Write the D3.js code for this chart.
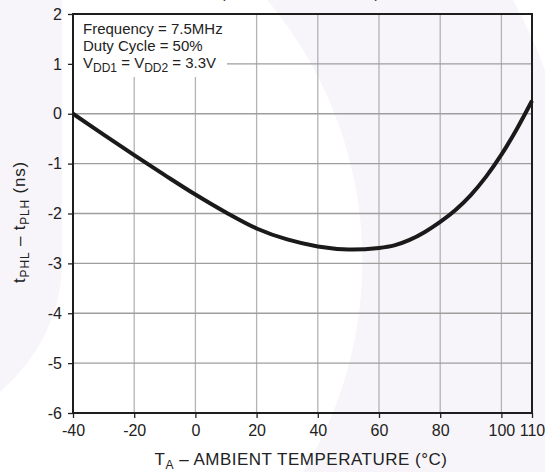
<!DOCTYPE html>
<html>
<head>
<meta charset="utf-8">
<script src="https://cdn.jsdelivr.net/npm/d3@7"></script>
<style>
  body { margin: 0; background: #fff; }
  svg { display: block; font-family: "Liberation Sans", Arial, sans-serif; }
</style>
</head>
<body>
<div id="chart"></div>
<script>
// data
var temps = [-40, -30, -20, -10, 0, 10, 20, 30, 40, 50, 60, 65, 70, 75, 80, 85, 90, 95, 100, 105, 110];
var skew = [0, -0.42, -0.83, -1.23, -1.62, -1.98, -2.30, -2.52, -2.66, -2.72, -2.69, -2.64, -2.53, -2.37, -2.17, -1.93, -1.63, -1.26, -0.82, -0.31, 0.26];
var xTicks = [-40, -20, 0, 20, 40, 60, 80, 100, 110];
var yTicks = [2, 1, 0, -1, -2, -3, -4, -5, -6];
var xGrid = [-20, 0, 20, 40, 60, 80, 100];
var yGrid = [1, 0, -1, -2, -3, -4, -5];

var width = 545, height = 472;
// plot box edges (window.top is taken, so no "top" here)
var pLeft = 73, pRight = 532, pTop = 14, pBottom = 413;

var svg = d3.select("#chart").append("svg")
    .attr("width", width)
    .attr("height", height);

// faint watermark in the background
var tint = "#f7f5f9";
svg.append("path")
    .attr("d", "M0,0 L62,0 L62,270 Q58,340 0,392 Z")
    .attr("fill", tint);
svg.append("path")
    .attr("d", "M267,0 A405,405 0 0,1 303,472 L545,472 L545,70 Q530,30 513,0 Z")
    .attr("fill", tint);

var x = d3.scaleLinear().domain([-40, 110]).range([pLeft, pRight]);
var y = d3.scaleLinear().domain([-6, 2]).range([pBottom, pTop]);

// grid
svg.append("g").selectAll("line")
    .data(xGrid).enter().append("line")
    .attr("x1", function (d) { return x(d); })
    .attr("x2", function (d) { return x(d); })
    .attr("y1", pTop).attr("y2", pBottom)
    .attr("stroke", "#b3b3b3").attr("stroke-width", 1.3);

svg.append("g").selectAll("line")
    .data(yGrid).enter().append("line")
    .attr("x1", pLeft).attr("x2", pRight)
    .attr("y1", function (d) { return y(d); })
    .attr("y2", function (d) { return y(d); })
    .attr("stroke", "#9e9e9e").attr("stroke-width", 1.3);

// note box hides the grid behind the text
svg.append("rect")
    .attr("x", pLeft).attr("y", pTop)
    .attr("width", 154).attr("height", 63)
    .attr("fill", "#fff");

// axes
var xAxis = svg.append("g")
    .attr("transform", "translate(0," + pBottom + ")")
    .call(d3.axisBottom(x).tickValues(xTicks).tickSize(5).tickPadding(7).tickFormat(String));
var yAxis = svg.append("g")
    .attr("transform", "translate(" + pLeft + ",0)")
    .call(d3.axisLeft(y).tickValues(yTicks).tickSize(5).tickPadding(6).tickFormat(String));

[xAxis, yAxis].forEach(function (a) {
    a.select(".domain").remove();
    a.selectAll("line").attr("stroke", "#222").attr("stroke-width", 1.3);
    a.selectAll("text")
        .attr("fill", "#222")
        .style("font-size", "16px")
        .style("font-family", "Liberation Sans, Arial, sans-serif");
});

// frame
svg.append("rect")
    .attr("x", pLeft).attr("y", pTop)
    .attr("width", pRight - pLeft).attr("height", pBottom - pTop)
    .attr("fill", "none")
    .attr("stroke", "#1e1e1e")
    .attr("stroke-width", 2);

// curve
var line = d3.line()
    .x(function (d, i) { return x(temps[i]); })
    .y(function (d) { return y(d); })
    .curve(d3.curveCatmullRom.alpha(0.5));

svg.append("path")
    .datum(skew)
    .attr("d", line)
    .attr("fill", "none")
    .attr("stroke", "#1a1a1a")
    .attr("stroke-width", 4);

// conditions text
var note = svg.append("g").attr("fill", "#222").style("font-size", "15px");
note.append("text").attr("x", 83).attr("y", 34).text("Frequency = 7.5MHz");
note.append("text").attr("x", 83).attr("y", 51).text("Duty Cycle = 50%");
var v = note.append("text").attr("x", 83).attr("y", 68);
v.append("tspan").text("V");
v.append("tspan").attr("dy", 4).style("font-size", "12px").text("DD1");
v.append("tspan").attr("dy", -4).text(" = V");
v.append("tspan").attr("dy", 4).style("font-size", "12px").text("DD2");
v.append("tspan").attr("dy", -4).text(" = 3.3V");

// axis titles
var xt = svg.append("text")
    .attr("x", 301).attr("y", 465)
    .attr("text-anchor", "middle")
    .attr("fill", "#222")
    .style("font-size", "17px")
    .style("letter-spacing", "0.5px");
xt.append("tspan").text("T");
xt.append("tspan").attr("dy", 3.5).style("font-size", "12px").text("A");
xt.append("tspan").attr("dy", -3.5).text(" \u2013 AMBIENT TEMPERATURE (\u00b0C)");

var yt = svg.append("text")
    .attr("transform", "translate(25,222) rotate(-90)")
    .attr("text-anchor", "middle")
    .attr("fill", "#222")
    .style("font-size", "17px")
    .style("letter-spacing", "0.8px");
yt.append("tspan").text("t");
yt.append("tspan").attr("dy", 4).style("font-size", "12px").text("PHL");
yt.append("tspan").attr("dy", -4).text(" \u2013 t");
yt.append("tspan").attr("dy", 4).style("font-size", "12px").text("PLH");
yt.append("tspan").attr("dy", -4).text(" (ns)");

// title line, mostly cut off above the picture
svg.append("text")
    .attr("x", 300).attr("y", -2)
    .attr("text-anchor", "middle")
    .attr("fill", "#222")
    .style("font-size", "15px")
    .text("(VDD1 = VDD2 = 3.3 V)");
</script>
</body>
</html>
